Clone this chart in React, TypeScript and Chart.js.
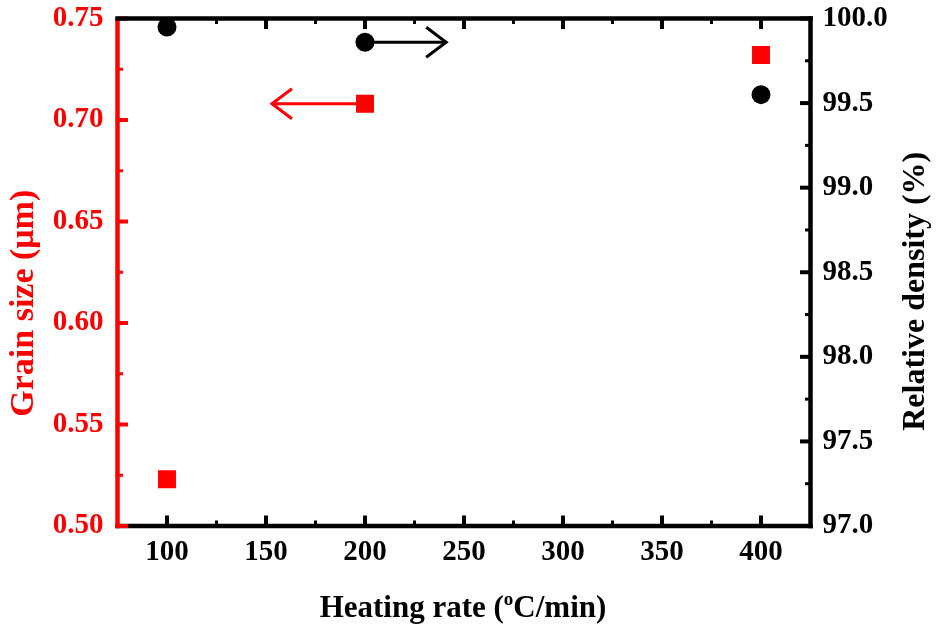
import React, { useEffect, useRef } from "react";
import { Chart, registerables } from "chart.js";

Chart.register(...registerables);

// ---- data ----
const heatingRates = [100, 200, 400];
const grainSize = [0.523, 0.708, 0.732];
const relativeDensity = [99.95, 99.86, 99.55];

const xTickValues = [100, 150, 200, 250, 300, 350, 400];
const xMinorTicks = [125, 175, 225, 275, 325, 375];
const yTickValues = [0.5, 0.55, 0.6, 0.65, 0.7, 0.75];
const yMinorTicks = [0.525, 0.575, 0.625, 0.675, 0.725];
const y2TickValues = [97.0, 97.5, 98.0, 98.5, 99.0, 99.5, 100.0];
const y2MinorTicks = [97.25, 97.75, 98.25, 98.75, 99.25, 99.75];

// arrows: [start x, end x] at a given y value
const redArrowX = [200, 153];
const redArrowY = 0.708;
const blackArrowX = [200, 241];
const blackArrowY = 99.86;

const RED = "#ff0000";
const BLACK = "#000000";
const FONT = "'Liberation Serif', 'Times New Roman', serif";

const zeroPad = (s: any) => {
  s.paddingTop = 0;
  s.paddingBottom = 0;
  s.paddingLeft = 0;
  s.paddingRight = 0;
};

const framePlugin = {
  id: "frame",
  beforeDatasetsDraw(chart: any) {
    const ctx = chart.ctx;
    const { left, right, top, bottom } = chart.chartArea;
    const xs = chart.scales.x;
    const ys = chart.scales.y;
    const y2s = chart.scales.y2;
    const lw = 4.5;
    const majLen = 10.5;
    const minLen = 5.5;
    ctx.save();
    ctx.lineCap = "butt";

    const line = (x1: number, y1: number, x2: number, y2: number, w: number, c: string) => {
      ctx.beginPath();
      ctx.strokeStyle = c;
      ctx.lineWidth = w;
      ctx.moveTo(x1, y1);
      ctx.lineTo(x2, y2);
      ctx.stroke();
    };

    // bottom axis
    line(left - lw / 2, bottom, right + lw / 2, bottom, lw, BLACK);
    xTickValues.forEach((v) => {
      const px = xs.getPixelForValue(v);
      line(px, bottom, px, bottom - majLen, 4, BLACK);
    });
    xMinorTicks.forEach((v) => {
      const px = xs.getPixelForValue(v);
      line(px, bottom, px, bottom - minLen, 3, BLACK);
    });

    // right axis
    line(right, top - lw / 2, right, bottom + lw / 2, lw, BLACK);
    y2TickValues.forEach((v) => {
      const py = y2s.getPixelForValue(v);
      line(right, py, right - majLen, py, 4, BLACK);
    });
    y2MinorTicks.forEach((v) => {
      const py = y2s.getPixelForValue(v);
      line(right, py, right - minLen, py, 3, BLACK);
    });

    // left axis (red)
    line(left, top, left, bottom + lw / 2, lw, RED);
    yTickValues.forEach((v) => {
      const py = ys.getPixelForValue(v);
      line(left, py, left + majLen, py, 4, RED);
    });
    yMinorTicks.forEach((v) => {
      const py = ys.getPixelForValue(v);
      line(left, py, left + minLen, py, 3, RED);
    });

    // top axis
    line(left - lw / 2, top, right + lw / 2, top, lw, BLACK);
    xTickValues.forEach((v) => {
      const px = xs.getPixelForValue(v);
      line(px, top, px, top + majLen, 4, BLACK);
    });
    xMinorTicks.forEach((v) => {
      const px = xs.getPixelForValue(v);
      line(px, top, px, top + minLen, 3, BLACK);
    });
    ctx.restore();
  },
  afterDatasetsDraw(chart: any) {
    const ctx = chart.ctx;
    const xs = chart.scales.x;
    const ys = chart.scales.y;
    const y2s = chart.scales.y2;
    const { left, right, top, bottom } = chart.chartArea;
    ctx.save();

    const arrow = (xa: number, xb: number, py: number, color: string) => {
      const p1 = xs.getPixelForValue(xa);
      const p2 = xs.getPixelForValue(xb);
      const dir = Math.sign(p2 - p1);
      ctx.strokeStyle = color;
      ctx.lineWidth = 3;
      ctx.lineCap = "butt";
      ctx.lineJoin = "miter";
      ctx.beginPath();
      ctx.moveTo(p1, py);
      ctx.lineTo(p2, py);
      ctx.stroke();
      ctx.beginPath();
      ctx.moveTo(p2 - dir * 20, py - 15);
      ctx.lineTo(p2, py);
      ctx.lineTo(p2 - dir * 20, py + 15);
      ctx.stroke();
    };
    arrow(redArrowX[0], redArrowX[1], ys.getPixelForValue(redArrowY), RED);
    arrow(blackArrowX[0], blackArrowX[1], y2s.getPixelForValue(blackArrowY), BLACK);

    // axis titles
    ctx.textBaseline = "middle";
    ctx.textAlign = "center";

    // left title
    ctx.save();
    ctx.font = `bold 34px ${FONT}`;
    ctx.fillStyle = RED;
    ctx.translate(24, (top + bottom) / 2 + 31);
    ctx.rotate(-Math.PI / 2);
    ctx.fillText("Grain size (\u03bcm)", 0, 0);
    ctx.restore();

    // right title
    ctx.save();
    ctx.font = `bold 32px ${FONT}`;
    ctx.fillStyle = BLACK;
    ctx.translate(916, (top + bottom) / 2 + 19);
    ctx.rotate(-Math.PI / 2);
    ctx.fillText("Relative density (%)", 0, 0);
    ctx.restore();

    // x title with superscript
    const tSize = 31;
    const partA = "Heating rate (";
    const partSup = "o";
    const partB = "C/min)";
    const supSize = 19;
    ctx.font = `bold ${tSize}px ${FONT}`;
    const wA = ctx.measureText(partA).width;
    const wB = ctx.measureText(partB).width;
    ctx.font = `bold ${supSize}px ${FONT}`;
    const wS = ctx.measureText(partSup).width;
    const total = wA + wS + wB;
    const cx = (left + right) / 2 - 1;
    const x0 = cx - total / 2;
    const baseY = 617;
    ctx.textAlign = "left";
    ctx.textBaseline = "alphabetic";
    ctx.fillStyle = BLACK;
    ctx.font = `bold ${tSize}px ${FONT}`;
    ctx.fillText(partA, x0, baseY);
    ctx.font = `bold ${supSize}px ${FONT}`;
    ctx.fillText(partSup, x0 + wA, baseY - 12);
    ctx.font = `bold ${tSize}px ${FONT}`;
    ctx.fillText(partB, x0 + wA + wS, baseY);
    ctx.restore();
  },
};

export default function App() {
  const ref = useRef<HTMLCanvasElement | null>(null);
  useEffect(() => {
    if (!ref.current) return;
    const chart = new Chart(ref.current, {
      type: "scatter",
      data: {
        datasets: [
          {
            label: "Grain size",
            data: heatingRates.map((x, i) => ({ x, y: grainSize[i] })),
            yAxisID: "y",
            pointStyle: "rect",
            pointRadius: 12.7,
            pointHoverRadius: 12.7,
            backgroundColor: RED,
            borderWidth: 0,
          },
          {
            label: "Relative density",
            data: heatingRates.map((x, i) => ({ x, y: relativeDensity[i] })),
            yAxisID: "y2",
            pointStyle: "circle",
            pointRadius: 9.5,
            pointHoverRadius: 9.5,
            backgroundColor: BLACK,
            borderWidth: 0,
          },
        ],
      },
      options: {
        responsive: false,
        animation: false,
        layout: { autoPadding: false, padding: { top: 18.5, left: 0, right: 0, bottom: 0 } },
        plugins: { legend: { display: false }, tooltip: { enabled: false } },
        scales: {
          x: {
            type: "linear",
            position: "bottom",
            min: 75,
            max: 425,
            grid: { display: false, drawTicks: false },
            border: { display: false },
            afterBuildTicks: (s: any) => {
              s.ticks = xTickValues.map((v) => ({ value: v }));
            },
            afterFit: (s: any) => {
              s.height = 104;
              zeroPad(s);
            },
            ticks: {
              padding: 9,
              color: BLACK,
              font: { family: FONT, size: 29, weight: "bold" },
              callback: (v: any) => String(v),
            },
          },
          y: {
            type: "linear",
            position: "left",
            min: 0.5,
            max: 0.75,
            grid: { display: false, drawTicks: false },
            border: { display: false },
            afterBuildTicks: (s: any) => {
              s.ticks = yTickValues.map((v) => ({ value: v }));
            },
            afterFit: (s: any) => {
              s.width = 117.5;
              zeroPad(s);
            },
            ticks: {
              padding: 14,
              color: RED,
              font: { family: FONT, size: 29, weight: "bold" },
              callback: (v: any) => Number(v).toFixed(2),
            },
          },
          y2: {
            type: "linear",
            position: "right",
            min: 97,
            max: 100,
            grid: { display: false, drawTicks: false },
            border: { display: false },
            afterBuildTicks: (s: any) => {
              s.ticks = y2TickValues.map((v) => ({ value: v }));
            },
            afterFit: (s: any) => {
              s.width = 125.5;
              zeroPad(s);
            },
            ticks: {
              padding: 12,
              color: BLACK,
              font: { family: FONT, size: 29, weight: "bold" },
              callback: (v: any) => Number(v).toFixed(1),
            },
          },
        },
      },
      plugins: [framePlugin],
    });
    return () => chart.destroy();
  }, []);
  return (
    <div style={{ position: "fixed", left: 0, top: 0, width: 936, height: 630, background: "#fff" }}>
      <canvas ref={ref} width={936} height={630} />
    </div>
  );
}
